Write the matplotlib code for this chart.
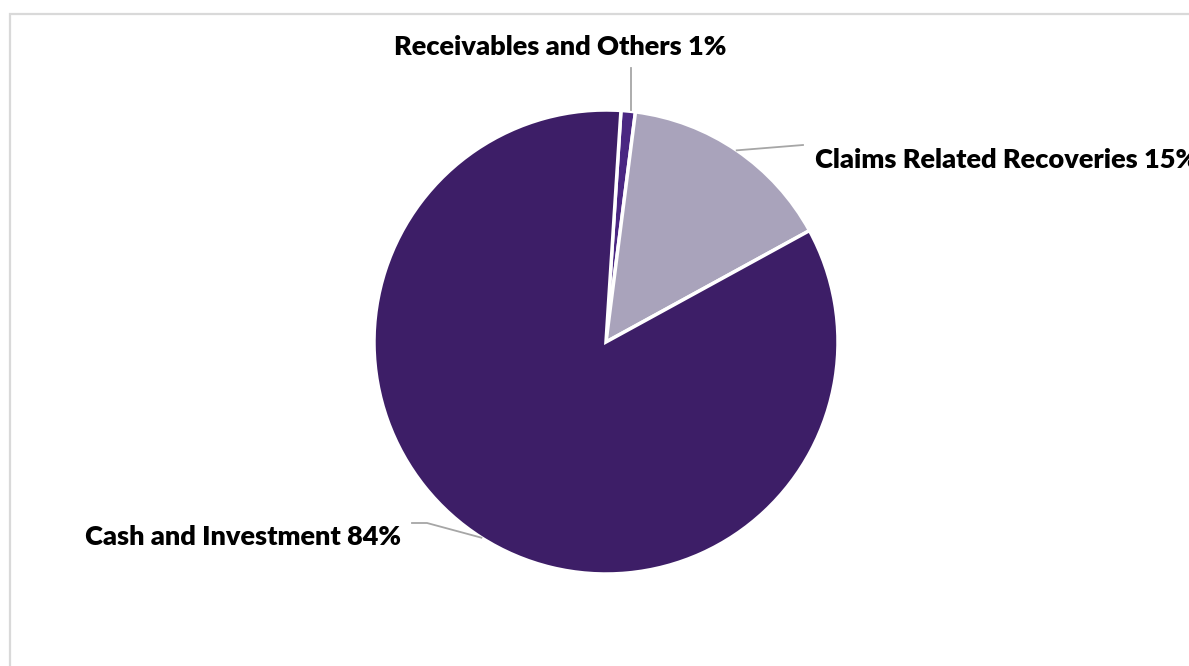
import numpy as np
import matplotlib
matplotlib.use("Agg")
import matplotlib.pyplot as plt
from matplotlib.patches import Rectangle

# asset mix
labels = ["Receivables and Others", "Claims Related Recoveries", "Cash and Investment"]
shares = [1, 15, 84]
colors = ["#4A2782", "#A9A3BB", "#3D1E67"]

plt.rcParams['font.family'] = ['Lato', 'DejaVu Sans']

W, H = 1189, 666
fig = plt.figure(figsize=(W / 100, H / 100), dpi=100)

# light grey chart frame
fig.patches.append(Rectangle((9.5 / W, -0.05), 1.1, (H - 13.5) / H + 0.05, transform=fig.transFigure,
                             fill=False, edgecolor="#D9D9D9", linewidth=1.6))

cx, cy, r = 606, 342, 232
ax = fig.add_axes([(cx - r) / W, (H - cy - r) / H, 2 * r / W, 2 * r / H])
wedges, _ = ax.pie(shares, colors=colors, startangle=86.3, counterclock=False, radius=1,
                   wedgeprops=dict(edgecolor="white", linewidth=2.5))
ax.set_xlim(-1, 1)
ax.set_ylim(-1, 1)
ax.set_aspect("equal")
ax.axis("off")

def px(x, y):
    # pixel position -> data units of the pie axes
    return ((x - cx) / r, (cy - y) / r)

# leader line elbows and text anchors
label_pts = [
    dict(path=[px(631, 68)], text=px(560, 47), ha="center"),
    dict(path=[px(803, 145)], text=px(815, 160), ha="left"),
    dict(path=[px(427, 523), px(412, 523)], text=px(401, 537), ha="right"),
]

for w, lab, val, lp in zip(wedges, labels, shares, label_pts):
    mid = np.deg2rad((w.theta1 + w.theta2) / 2)
    ax_pt = (np.cos(mid), np.sin(mid))
    pts = [ax_pt] + lp["path"]
    if lab.startswith("Receivables"):
        pts = [(lp["path"][0][0], ax_pt[1] + 0.005)] + lp["path"]
    xs, ys = zip(*pts)
    ax.plot(xs, ys, color="#A6A6A6", linewidth=1.3, clip_on=False)
    ax.text(lp["text"][0], lp["text"][1], f"{lab} {val}%", ha=lp["ha"], va="center",
            fontsize=19.5, fontweight="heavy", color="black", clip_on=False)

fig.savefig("out.png", dpi=100)
